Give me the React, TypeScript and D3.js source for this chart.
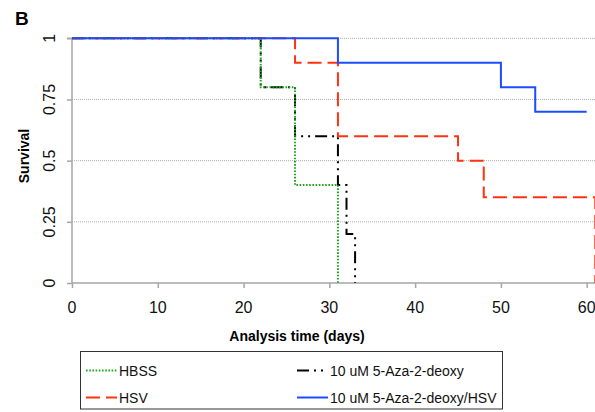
import React, { useEffect, useRef } from 'react';
import * as d3 from 'd3';

// Kaplan-Meier steps
const hbssDays = [0, 22, 26, 31];
const hbssSurv = [1, 0.8, 0.4, 0];
const hsvDays = [0, 26, 31, 45, 48, 61];
const hsvSurv = [1, 0.9, 0.6, 0.5, 0.35, 0];
const azaDays = [0, 22, 26, 31, 32, 33];
const azaSurv = [1, 0.8, 0.6, 0.4, 0.2, 0];
const azaHsvDays = [0, 31, 50, 54, 60];
const azaHsvSurv = [1, 0.9, 0.8, 0.7, 0.7];

const xTicks = [0, 10, 20, 30, 40, 50, 60];
const yTicks = [0, 0.25, 0.5, 0.75, 1];
const yTickLabels = ['0', '0.25', '0.5', '0.75', '1'];

const legendNames = ['HBSS', 'HSV', '10 uM 5-Aza-2-deoxy', '10 uM 5-Aza-2-deoxy/HSV'];

const width = 595;
const height = 412;
const font = '"Liberation Sans", Arial, sans-serif';

const App = () => {
	const d3Container = useRef<SVGSVGElement | null>(null);

	useEffect(() => {
		if (!d3Container.current) return;
		const svg = d3.select(d3Container.current);
		svg.selectAll('*').remove();

		const x = d3.scaleLinear().domain([0, 60]).range([72, 586.7]);
		const y = d3.scaleLinear().domain([0, 1]).range([283, 38.3]);
		const axisColor = '#a6a6a6';

		// dotted gridlines
		svg.append('g')
			.selectAll('line')
			.data(yTicks.filter(t => t > 0))
			.join('line')
			.attr('x1', x(0))
			.attr('x2', width)
			.attr('y1', d => y(d))
			.attr('y2', d => y(d))
			.attr('stroke', '#9a9a9a')
			.attr('stroke-width', 0.8)
			.attr('stroke-dasharray', '1,1');

		// y axis
		const yAxis = svg.append('g')
			.attr('transform', `translate(${x(0)},0)`)
			.call(d3.axisLeft(y).tickValues(yTicks).tickSize(5).tickFormat(() => ''));
		yAxis.selectAll('path,line').attr('stroke', axisColor).attr('stroke-width', 1.5);
		yAxis.select('.domain').attr('d', `M-5,${y(1)}H0V${y(0)}`);

		svg.append('g')
			.selectAll('text')
			.data(yTicks)
			.join('text')
			.attr('transform', d => `translate(55,${y(d)}) rotate(-90)`)
			.attr('text-anchor', 'middle')
			.style('font-family', font)
			.style('font-size', '16px')
			.attr('fill', '#111')
			.text((d, i) => yTickLabels[i]);

		// x axis
		const xAxis = svg.append('g')
			.attr('transform', `translate(0,${y(0)})`)
			.call(d3.axisBottom(x).tickValues(xTicks).tickSize(5).tickFormat(() => ''));
		xAxis.selectAll('path,line').attr('stroke', axisColor).attr('stroke-width', 1.5);
		xAxis.select('.domain').attr('d', `M${x(0)},0H${width}`);

		svg.append('g')
			.selectAll('text')
			.data(xTicks)
			.join('text')
			.attr('x', d => x(d))
			.attr('y', 313)
			.attr('text-anchor', 'middle')
			.style('font-family', font)
			.style('font-size', '16px')
			.attr('fill', '#111')
			.text(d => d);

		// survival curves
		const line = d3
			.line<[number, number]>()
			.x(d => x(d[0]))
			.y(d => y(d[1]))
			.curve(d3.curveStepAfter);

		const series = [
			{ days: azaDays, surv: azaSurv, color: '#000000', dash: '12,5,2,5,2,5', w: 2 },
			{ days: hbssDays, surv: hbssSurv, color: '#1fa81f', dash: '1.6,1.6', w: 2 },
			{ days: hsvDays, surv: hsvSurv, color: '#ff3311', dash: '14,6', w: 2 },
			{ days: azaHsvDays, surv: azaHsvSurv, color: '#1a4dff', dash: null, w: 2 },
		];

		svg.append('g')
			.selectAll('path')
			.data(series)
			.join('path')
			.attr('d', s => line(s.days.map((t, i) => [t, s.surv[i]] as [number, number])))
			.attr('fill', 'none')
			.attr('stroke', s => s.color)
			.attr('stroke-width', s => s.w)
			.attr('stroke-dasharray', s => s.dash);

		// titles
		svg.append('text')
			.attr('x', 15)
			.attr('y', 25)
			.style('font-family', font)
			.style('font-size', '19px')
			.style('font-weight', 'bold')
			.text('B');

		svg.append('text')
			.attr('x', 297)
			.attr('y', 341)
			.attr('text-anchor', 'middle')
			.style('font-family', font)
			.style('font-size', '14px')
			.style('font-weight', 'bold')
			.text('Analysis time (days)');

		svg.append('text')
			.attr('transform', 'translate(29,156) rotate(-90)')
			.attr('text-anchor', 'middle')
			.style('font-family', font)
			.style('font-size', '14px')
			.style('font-weight', 'bold')
			.text('Survival');

		// legend
		const legend = svg.append('g');
		legend.append('rect')
			.attr('x', 80.5)
			.attr('y', 351.5)
			.attr('width', 422)
			.attr('height', 57.5)
			.attr('fill', 'none')
			.attr('stroke', '#333')
			.attr('stroke-width', 1);

		const legendItems = [
			{ name: legendNames[0], s: series[1], col: 0, row: 0 },
			{ name: legendNames[1], s: series[2], col: 0, row: 1 },
			{ name: legendNames[2], s: series[0], col: 1, row: 0 },
			{ name: legendNames[3], s: series[3], col: 1, row: 1 },
		];
		const colX = [86, 297];
		const rowY = [370.5, 397.5];

		legend.selectAll('line')
			.data(legendItems)
			.join('line')
			.attr('x1', d => colX[d.col])
			.attr('x2', d => colX[d.col] + 31)
			.attr('y1', d => rowY[d.row])
			.attr('y2', d => rowY[d.row])
			.attr('stroke', d => d.s.color)
			.attr('stroke-width', 2)
			.attr('stroke-dasharray', d => d.s.dash);

		legend.selectAll('text')
			.data(legendItems)
			.join('text')
			.attr('x', d => colX[d.col] + 33)
			.attr('y', d => rowY[d.row] + 5)
			.style('font-family', font)
			.style('font-size', '14px')
			.attr('fill', '#111')
			.text(d => d.name);
	}, []);

	return (
		<svg
			ref={d3Container}
			width={width}
			height={height}
			style={{ position: 'absolute', left: 0, top: 0, background: '#fff' }}
		/>
	);
};

export default App;
